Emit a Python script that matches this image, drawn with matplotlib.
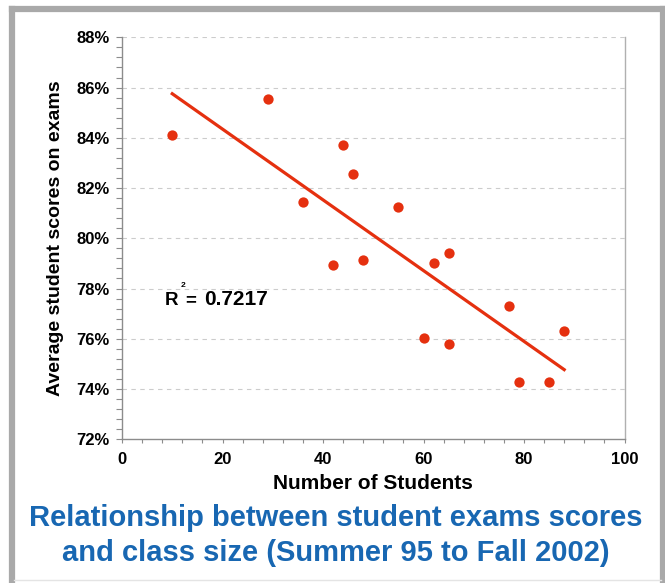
import numpy as np
import matplotlib
matplotlib.use("Agg")
import matplotlib.pyplot as plt
from matplotlib.ticker import MultipleLocator, FuncFormatter
from matplotlib.lines import Line2D

# class size vs average exam score (%)
class_size = [10, 29, 36, 42, 44, 46, 48, 55, 60, 62, 65, 65, 77, 79, 85, 88]
avg_score = [84.1, 85.55, 81.45, 78.95, 83.7, 82.55, 79.15, 81.25,
             76.05, 79.0, 79.4, 75.8, 77.3, 74.3, 74.3, 76.3]
r2_value = "0.7217"
title_lines = ["Relationship between student exams scores",
               "and class size (Summer 95 to Fall 2002)"]

red = "#e5300f"
blue = "#1867b2"
W, H = 665, 583

fig = plt.figure(figsize=(W / 100, H / 100), dpi=100)
fig.patch.set_facecolor("white")

# grey frame around the slide
fig.add_artist(Line2D([12 / W, 12 / W], [0, 1 - 9 / H], color="#a9a9a9", lw=4.5))
fig.add_artist(Line2D([12 / W, 1], [1 - 9 / H, 1 - 9 / H], color="#a9a9a9", lw=4.5))
fig.add_artist(Line2D([663 / W, 663 / W], [0, 1 - 9 / H], color="#a9a9a9", lw=4.5))
fig.add_artist(Line2D([14 / W, 661 / W], [3 / H, 3 / H], color="#e4e4e4", lw=1))

ax = fig.add_axes([122 / W, 1 - 439.3 / H, (624.5 - 122) / W, (439.3 - 37.3) / H])

ax.scatter(class_size, avg_score, s=55, color=red, zorder=3, linewidths=0)

# linear trend line
coef = np.polyfit(class_size, avg_score, 1)
xs = np.array([min(class_size), max(class_size)])
ax.plot(xs, np.polyval(coef, xs), color=red, lw=2.3, zorder=2)

ax.set_xlim(0, 100)
ax.set_ylim(72, 88)
ax.xaxis.set_major_locator(MultipleLocator(20))
ax.xaxis.set_minor_locator(MultipleLocator(4))
ax.yaxis.set_major_locator(MultipleLocator(2))
ax.yaxis.set_minor_locator(MultipleLocator(0.4))
ax.yaxis.set_major_formatter(FuncFormatter(lambda v, p: "%d%%" % round(v)))

for yv in range(74, 89, 2):
    ax.axhline(yv, color="#cccccc", lw=0.8, ls=(0, (4, 4)), zorder=1)

for s in ["left", "bottom", "right"]:
    ax.spines[s].set_color("#8c8c8c")
    ax.spines[s].set_linewidth(1.0)
ax.spines["right"].set_color("#b0b0b0")
ax.spines["top"].set_visible(False)

ax.tick_params(axis="both", which="both", colors="#8c8c8c", width=0.8)
ax.tick_params(axis="y", which="major", length=4, pad=5)
ax.tick_params(axis="y", which="minor", length=4)
ax.tick_params(axis="x", which="major", length=3, pad=6)
ax.tick_params(axis="x", which="minor", length=3)
for lab in ax.get_xticklabels() + ax.get_yticklabels():
    lab.set_color("black")
    lab.set_fontweight("bold")
    lab.set_fontsize(12)
    lab.set_fontfamily("Liberation Sans")

ax.set_xlabel("Number of Students", fontsize=15, fontweight="bold",
              family="Liberation Sans", labelpad=5)
ax.set_ylabel("Average student scores on exams", fontsize=14, fontweight="bold",
              family="Liberation Sans", labelpad=9)

# R squared annotation
rk = dict(fontweight="bold", family="Liberation Sans")
ax.text(8.5, 77.35, "R", fontsize=13.5, **rk)
ax.text(11.7, 78.05, "2", fontsize=6, **rk)
ax.text(12.5, 77.35, "=", fontsize=13.5, **rk)
ax.text(16.3, 77.35, r2_value, fontsize=15, **rk)

fig.text(336 / W, 1 - 518 / H, title_lines[0], ha="center", va="center",
         fontsize=21, fontweight="bold", color=blue, family="Liberation Sans")
fig.text(336 / W, 1 - 553 / H, title_lines[1], ha="center", va="center",
         fontsize=21, fontweight="bold", color=blue, family="Liberation Sans")

fig.savefig("out.png", dpi=100)
